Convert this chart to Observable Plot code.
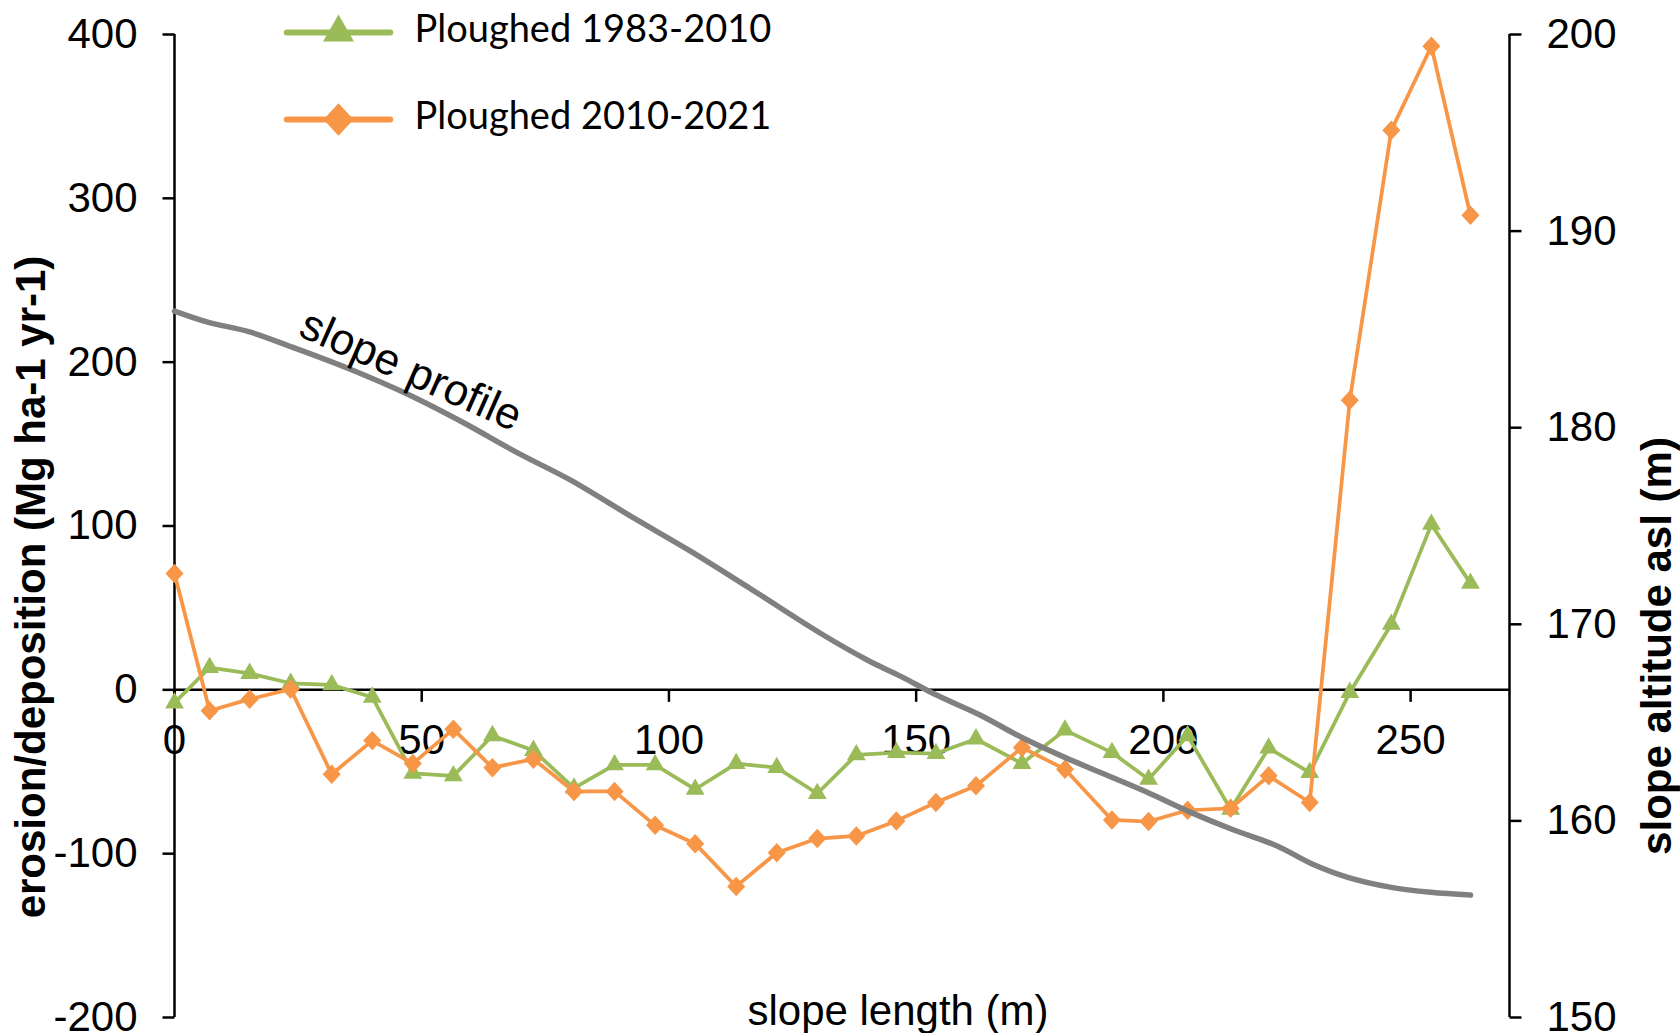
<!DOCTYPE html>
<html>
<head>
<meta charset="utf-8">
<script src="https://cdn.jsdelivr.net/npm/d3@7"></script>
<script src="https://cdn.jsdelivr.net/npm/@observablehq/plot@0.6"></script>
<style>
html, body { margin: 0; padding: 0; background: #fff; }
#chart svg { display: block; }
</style>
</head>
<body>
<div id="chart"></div>
<script>
// ---- data ----
const seriesNames = ["Ploughed 1983-2010", "Ploughed 2010-2021"];
const seriesColors = ["#9BBB59", "#F79646"];

const slopeLength = [0, 7.1, 15.2, 23.5, 31.8, 40.0, 48.2, 56.4, 64.3, 72.6, 80.8, 89.0, 97.2, 105.3, 113.6, 121.8, 130.0, 137.9, 146.0, 154.0, 162.1, 171.4, 180.1, 189.6, 197.0, 204.9, 213.6, 221.3, 229.6, 237.7, 246.1, 254.2, 262.1];
const ploughed1983_2010 = [-8, 13.6, 10, 4, 3, -4.5, -51, -52.5, -28, -37, -60, -45.8, -45.8, -60.7, -45, -47.5, -63.3, -39.7, -38.3, -38.9, -30, -45, -24.6, -38.3, -54.6, -28, -72.9, -35.6, -50.5, -1.6, 40, 101, 65];
const ploughed2010_2021 = [71, -12.8, -5.7, 0.4, -51.5, -31, -45, -24, -47.5, -42.3, -62, -62, -82.7, -93.9, -120, -99.4, -90.8, -89.2, -80, -68.8, -58.6, -35.2, -48.5, -79.4, -80.4, -73.5, -72.3, -52.5, -68.8, 176.7, 341.5, 392.8, 289.7];

const profileX = [0, 6.7, 15.2, 23.8, 35.3, 47.7, 58.2, 69.7, 80.2, 92.6, 104.1, 116.5, 130.8, 140.3, 146.9, 154.1, 162.9, 171.7, 180.5, 189.3, 196.5, 205.3, 214.1, 222.9, 230.1, 237.3, 246.1, 254.1, 262.1];
const profileAltitude = [185.93, 185.37, 184.87, 184.10, 183.00, 181.64, 180.29, 178.68, 177.32, 175.45, 173.76, 171.81, 169.52, 168.16, 167.35, 166.40, 165.39, 164.20, 163.18, 162.25, 161.48, 160.46, 159.55, 158.74, 157.81, 157.13, 156.62, 156.37, 156.23];

const xTicks = [0, 50, 100, 150, 200, 250];
const yTicks = [-200, -100, 0, 100, 200, 300, 400];
const altTicks = [150, 160, 170, 180, 190, 200];

const xDomain = [0, 270];
const yDomain = [-200, 400];
const altDomain = [150, 200];

const xTitle = "slope length (m)";
const yTitle = "erosion/deposition (Mg ha-1 yr-1)";
const altTitle = "slope altitude asl (m)";
const profileLabel = "slope profile";

// ---- derived tables ----
const altToY = a => (a - altDomain[0]) * (yDomain[1] - yDomain[0]) / (altDomain[1] - altDomain[0]) + yDomain[0];
const seriesValues = [ploughed1983_2010, ploughed2010_2021];
const seriesRows = seriesValues.map(vals => slopeLength.map((x, i) => ({x, v: vals[i]})));
const profileRows = profileX.map((x, i) => ({x, alt: profileAltitude[i], y: altToY(profileAltitude[i])}));

// ---- symbols ----
const seg = (dx, dy) => ({draw(ctx) { ctx.moveTo(0, 0); ctx.lineTo(dx, dy); }});
const hline = (half) => ({draw(ctx) { ctx.moveTo(-half, 0); ctx.lineTo(half, 0); }});
const diamond = {draw(ctx, size) {
  const h = Math.sqrt(size / 2);
  ctx.moveTo(0, -h * 1.08); ctx.lineTo(h, 0); ctx.lineTo(0, h * 1.08); ctx.lineTo(-h, 0); ctx.closePath();
}};
const symbols = ["triangle", diamond];

const FONT = "'Liberation Sans', Arial, sans-serif";
const LEGEND_FONT = "Lato, 'Open Sans', sans-serif";

const marks = [
  // axis lines
  Plot.ruleY([0], {stroke: "black", strokeWidth: 2.5}),
  Plot.ruleX([xDomain[0], xDomain[1]], {stroke: "black", strokeWidth: 2.5}),
  // x ticks + labels (axis crosses at zero)
  Plot.dot(xTicks, {x: d => d, y: 0, symbol: seg(0, 12), fill: "none", stroke: "black", strokeWidth: 2.5}),
  Plot.text(xTicks, {x: d => d, y: 0, dy: 51, text: d => String(d), fontSize: 42, fill: "black"}),
  // left y ticks + labels
  Plot.dot(yTicks, {x: xDomain[0], y: d => d, symbol: seg(-12, 0), fill: "none", stroke: "black", strokeWidth: 2.5}),
  Plot.text(yTicks, {x: xDomain[0], y: d => d, dx: -37, textAnchor: "end", text: d => String(d), fontSize: 42, fill: "black"}),
  // right (altitude) ticks + labels
  Plot.dot(altTicks, {x: xDomain[1], y: d => altToY(d), symbol: seg(12, 0), fill: "none", stroke: "black", strokeWidth: 2.5}),
  Plot.text(altTicks, {x: xDomain[1], y: d => altToY(d), dx: 37, textAnchor: "start", text: d => String(d), fontSize: 42, fill: "black"}),
];

// series lines and markers
seriesRows.forEach((rows, k) => {
  marks.push(Plot.line(rows, {x: "x", y: "v", stroke: seriesColors[k], strokeWidth: 3.75}));
  marks.push(Plot.dot(rows, {x: "x", y: "v", symbol: symbols[k], r: k === 0 ? 7 : 7.2, fill: seriesColors[k], stroke: "none"}));
});

// slope profile (secondary axis)
marks.push(Plot.line(profileRows, {x: "x", y: "y", stroke: "#808080", strokeWidth: 5.5, curve: "catmull-rom"}));
marks.push(Plot.text(profileRows.filter((d, i) => i === 5), {
  x: "x", y: "y", text: () => profileLabel, rotate: 24, textAnchor: "middle", lineAnchor: "bottom",
  dx: -5, dy: -12, fontSize: 44, fill: "black"
}));

// axis titles
marks.push(Plot.text([yTitle], {frameAnchor: "left", text: d => d, rotate: -90, textAnchor: "middle", lineAnchor: "middle", dx: -143, dy: 61, fontSize: 42, fontWeight: "bold", fill: "black"}));
marks.push(Plot.text([altTitle], {frameAnchor: "right", text: d => d, rotate: -90, textAnchor: "middle", lineAnchor: "middle", dx: 148, dy: 120, fontSize: 42, fontWeight: "bold", fill: "black"}));
marks.push(Plot.text([xTitle], {frameAnchor: "bottom", text: d => d, textAnchor: "middle", lineAnchor: "middle", dx: 56, dy: -6, fontSize: 42, fill: "black"}));

// legend
seriesNames.forEach((name, k) => {
  const dy = k * 87;
  marks.push(Plot.dot([name], {frameAnchor: "top-left", dx: 164, dy: -2 + dy, symbol: hline(51.7), fill: "none", stroke: seriesColors[k], strokeWidth: 6, strokeLinecap: "round"}));
  marks.push(Plot.dot([name], {frameAnchor: "top-left", dx: 164, dy: -2 + dy, symbol: symbols[k], r: k === 0 ? 11.5 : 12, fill: seriesColors[k], stroke: "none"}));
  marks.push(Plot.text([name], {frameAnchor: "top-left", dx: 240, dy: -5 + dy, text: d => d, textAnchor: "start", lineAnchor: "middle", fontFamily: LEGEND_FONT, fontSize: 38, fill: "black"}));
});

const chart = Plot.plot({
  width: 1680,
  height: 1033,
  marginLeft: 174,
  marginRight: 171,
  marginTop: 34,
  marginBottom: 16,
  x: {domain: xDomain, axis: null},
  y: {domain: yDomain, axis: null},
  style: {fontFamily: FONT, fontSize: "42px", color: "black", background: "white", overflow: "visible"},
  marks
});
document.getElementById("chart").appendChild(chart);
</script>
</body>
</html>
